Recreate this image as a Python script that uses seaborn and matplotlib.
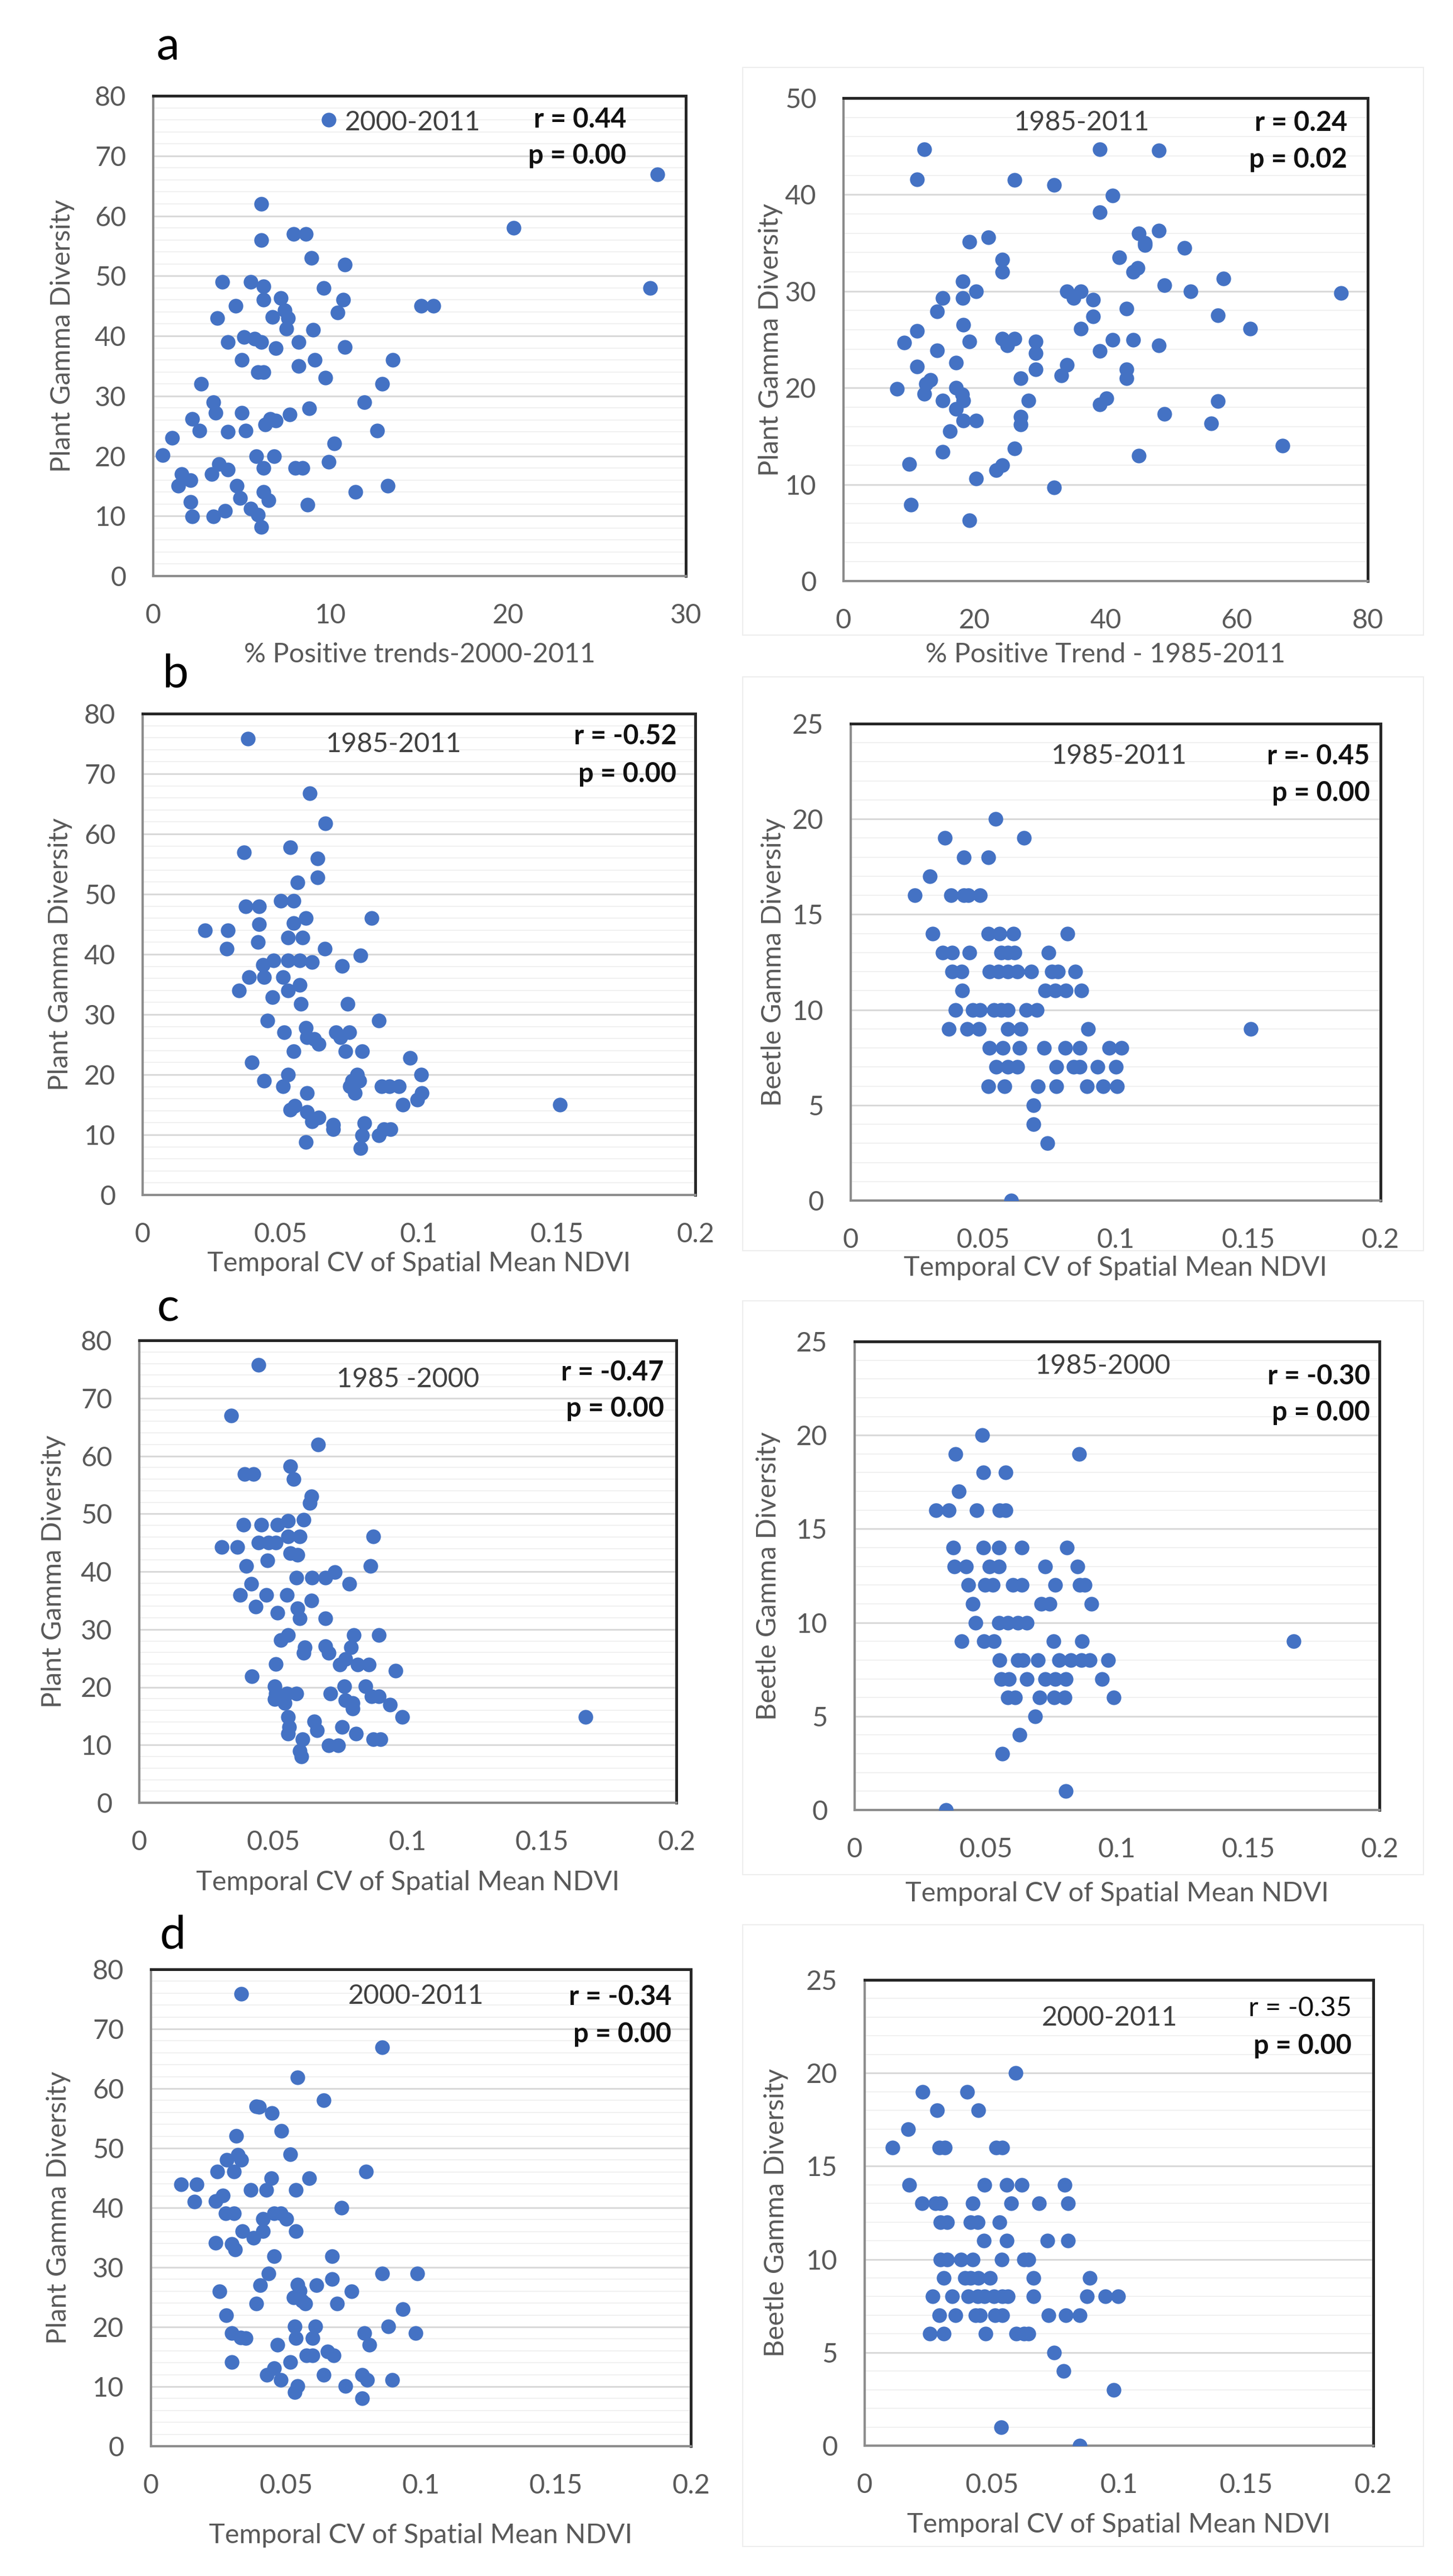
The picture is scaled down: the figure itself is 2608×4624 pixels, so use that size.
import numpy as np
import matplotlib.pyplot as plt
import matplotlib.patches as mpatches
from matplotlib.ticker import MultipleLocator, FixedLocator
import seaborn as sns

sns.set_style("white")
plt.rcParams['font.family'] = ['Lato', 'DejaVu Sans']

# ---- data ----
# a (left): plant diversity vs % positive trends 2000-2011
a_left_x = [0.54, 1.08, 1.4, 1.6, 2.1, 2.1, 2.2, 2.2, 2.6, 2.7, 3.3, 3.4, 3.5, 3.4, 3.6, 3.7, 3.9, 4.05,
            4.2, 4.2, 4.2, 4.65, 4.7, 4.9, 5.0, 5.0, 5.1, 5.2, 5.5, 5.5, 5.7, 5.8, 5.9, 5.9, 6.1, 6.1,
            6.1, 6.1, 6.2, 6.2, 6.2, 6.2, 6.2, 6.3, 6.5, 6.6, 6.7, 6.8, 6.9, 6.9, 7.2, 7.4, 7.6, 7.5,
            7.7, 7.9, 8.0, 8.2, 8.2, 8.4, 8.6, 8.7, 8.8, 8.9, 9.0, 9.1, 9.6, 9.7, 9.9, 10.2, 10.4,
            10.7, 10.8, 10.8, 11.4, 11.9, 12.6, 12.9, 13.2, 13.5, 15.1, 15.8, 20.3, 28.0, 28.4, 9.9]
a_left_y = [20.1, 23, 15, 17, 16, 12.3, 9.9, 26.2, 24.2, 32, 17, 29, 27.2, 9.9, 43, 18.7, 49, 10.9,
            17.7, 39, 24, 45, 15, 13, 36, 27.2, 39.8, 24.2, 49, 11.2, 39.5, 20, 10.2, 34, 62, 56,
            39, 8.2, 48.3, 14, 46, 34, 18, 25.2, 12.6, 26.2, 43.2, 20, 38, 25.9, 46.3, 44.3, 43, 41.2,
            26.9, 57, 18, 39, 35, 18, 57, 11.9, 27.9, 53, 41, 36, 48, 33, 19, 22.1, 43.9,
            46, 51.9, 38.1, 14, 29, 24.2, 32, 15, 36, 45, 45, 58, 48, 66.9, 76]

# a (right): plant diversity vs % positive trend 1985-2011
a_right_x = [8.2, 9.3, 10.0, 10.3, 11.2, 11.2, 11.2, 12.3, 12.3, 12.6,
             13.3, 14.3, 14.3, 15.1, 15.1, 15.1, 16.2, 17.2, 17.2, 17.2,
             18.1, 18.2, 18.2, 18.3, 18.3, 18.3, 19.2, 19.2, 19.2, 20.2,
             20.2, 20.2, 22.1, 23.3, 24.2, 24.2, 24.2, 24.2, 25.0, 26.1,
             26.1, 26.1, 27.0, 27.0, 27.0, 28.2, 29.3, 29.3, 29.3, 32.1,
             32.1, 33.2, 34.1, 34.1, 35.1, 36.2, 36.2, 38.1, 38.1, 39.1,
             39.1, 39.1, 39.1, 40.1, 41.1, 41.1, 42.1, 43.2, 43.2, 43.2,
             44.2, 44.2, 44.9, 45.1, 45.1, 46.0, 46.0, 48.1, 48.1, 48.1,
             49.0, 49.0, 52.0, 53.0, 56.1, 57.1, 57.1, 58.0, 62.1, 67.0, 75.9]
a_right_y = [19.9, 24.7, 12.1, 7.9, 41.6, 25.9, 22.2, 44.7, 19.4, 20.4,
             20.8, 23.9, 27.9, 29.3, 18.7, 13.4, 15.5, 22.6, 20, 17.8,
             19.3, 31, 29.3, 26.5, 16.6, 18.7, 35.1, 24.8, 6.3, 30,
             16.6, 10.6, 35.6, 11.5, 33.3, 32, 12, 25.1, 24.4, 41.5,
             25.1, 13.7, 21, 17, 16.2, 18.7, 24.8, 23.6, 21.9, 41,
             9.7, 21.3, 22.4, 30, 29.3, 30, 26.1, 29.1, 27.4, 44.7,
             38.2, 23.8, 18.3, 18.9, 39.9, 25, 33.5, 28.2, 21.9, 21,
             32, 25, 32.4, 36, 13, 35, 34.8, 44.6, 36.3, 24.4,
             30.6, 17.3, 34.5, 30, 16.3, 27.5, 18.6, 31.3, 26.1, 14, 29.8]

# b (left): plant diversity vs temporal CV 1985-2011
b_left_x = [0.0382, 0.0604, 0.0661, 0.0366, 0.0534, 0.0633, 0.0633, 0.056, 0.050, 0.0546,
            0.0373, 0.0421, 0.059, 0.0546, 0.0421, 0.0829, 0.0225, 0.0309, 0.0526, 0.0578,
            0.0418, 0.0304, 0.0659, 0.0789, 0.0474, 0.0526, 0.0569, 0.0612, 0.0435, 0.0722,
            0.0386, 0.044, 0.0508, 0.0569, 0.0349, 0.0526, 0.047, 0.0572, 0.0742, 0.0451,
            0.0855, 0.059, 0.0512, 0.0699, 0.0748, 0.0595, 0.0621, 0.0638, 0.0716, 0.0546,
            0.0734, 0.0794, 0.0968, 0.0395, 0.0526, 0.0776, 0.1008, 0.044, 0.0759, 0.0785,
            0.0508, 0.075, 0.0864, 0.0893, 0.0928, 0.0595, 0.0768, 0.1011, 0.0994, 0.0942,
            0.1511, 0.0534, 0.0551, 0.0595, 0.0612, 0.0638, 0.069, 0.069, 0.0803, 0.0855,
            0.0873, 0.0898, 0.059, 0.0789, 0.0794]
b_left_y = [75.8, 66.8, 61.8, 56.9, 57.8, 55.9, 52.8, 51.9, 48.9, 48.9,
            48, 48, 46, 45.2, 45, 46, 44, 44, 42.8, 42.8,
            42, 40.9, 40.9, 39.8, 39, 39, 39, 38.7, 38.2, 38.1,
            36.2, 36.2, 36.2, 34.9, 34, 34, 32.9, 31.8, 31.8, 29,
            29, 27.8, 27, 27, 27, 26.2, 25.9, 25.1, 26.2, 23.9,
            23.9, 23.9, 22.8, 22, 20, 20, 20, 19, 19, 19,
            18.1, 18.1, 18.1, 18.1, 18.1, 16.9, 16.9, 16.9, 15.8, 15,
            15, 14.2, 14.8, 13.8, 12.2, 12.9, 11.7, 10.9, 11.9, 9.9,
            10.9, 10.9, 8.8, 7.8, 9.9]

# b (right): beetle diversity vs temporal CV 1985-2011
b_right_x = [0.0546,
             0.0356, 0.0654,
             0.0426, 0.0519,
             0.0298,
             0.0242, 0.0379, 0.0426, 0.0444, 0.0488,
             0.0309, 0.0519, 0.0561, 0.0614, 0.0818,
             0.0347, 0.0382, 0.0449, 0.0567, 0.0593, 0.0619, 0.0747,
             0.0382, 0.0418, 0.0523, 0.0558, 0.0593, 0.0628, 0.0681, 0.076, 0.0782, 0.0847,
             0.0421, 0.0733, 0.0772, 0.0812, 0.087,
             0.0396, 0.0461, 0.0488, 0.054, 0.0567, 0.0593, 0.0663, 0.0702,
             0.037, 0.0439, 0.0484, 0.0593, 0.0642, 0.0895, 0.1509,
             0.0523, 0.0575, 0.0637, 0.073, 0.0809, 0.0865, 0.0975, 0.1023,
             0.0549, 0.0593, 0.0628, 0.0777, 0.0842, 0.0865, 0.0932, 0.1002,
             0.0519, 0.0581, 0.0707, 0.0777, 0.0891, 0.0953, 0.1005,
             0.0689, 0.0689, 0.0742, 0.0605]
b_right_y = [20,
             19, 19,
             18, 18,
             17,
             16, 16, 16, 16, 16,
             14, 14, 14, 14, 14,
             13, 13, 13, 13, 13, 13, 13,
             12, 12, 12, 12, 12, 12, 12, 12, 12, 12,
             11, 11, 11, 11, 11,
             10, 10, 10, 10, 10, 10, 10, 10,
             9, 9, 9, 9, 9, 9, 9,
             8, 8, 8, 8, 8, 8, 8, 8,
             7, 7, 7, 7, 7, 7, 7, 7,
             6, 6, 6, 6, 6, 6, 6,
             5, 4, 3, 0]

# c (left): plant diversity vs temporal CV 1985-2000
c_left_x = [0.0443, 0.0343, 0.0666, 0.0393, 0.0425, 0.0563, 0.0575, 0.0641, 0.0634, 0.0389,
            0.0455, 0.0514, 0.0554, 0.0611, 0.0307, 0.0366, 0.0443, 0.0482, 0.0509, 0.0554,
            0.0598, 0.0871, 0.0563, 0.0589, 0.0477, 0.0398, 0.0861, 0.0586, 0.0643, 0.0693,
            0.0729, 0.0782, 0.0416, 0.0375, 0.0473, 0.055, 0.0641, 0.0434, 0.0514, 0.0589,
            0.0598, 0.0693, 0.0554, 0.0527, 0.0798, 0.0893, 0.0616, 0.0611, 0.0693, 0.0705,
            0.0789, 0.0768, 0.0746, 0.0813, 0.0854, 0.0509, 0.0955, 0.042, 0.0504, 0.0763,
            0.0843, 0.0509, 0.055, 0.0586, 0.0711, 0.0866, 0.0893, 0.0504, 0.0541, 0.0768,
            0.0795, 0.0934, 0.0795, 0.0979, 0.1661, 0.0554, 0.0652, 0.0559, 0.0661, 0.0755,
            0.0554, 0.0807, 0.0607, 0.0871, 0.0898, 0.0705, 0.0741, 0.0598, 0.0604]
c_left_y = [75.8, 67, 62, 56.9, 56.9, 58.2, 56, 53, 51.9, 48.1,
            48.1, 48.1, 48.8, 49, 44.2, 44.2, 45, 45, 45, 46.1,
            46.1, 46.1, 43.2, 42.9, 41.9, 41, 41, 38.9, 38.9, 38.9,
            39.9, 37.9, 37.9, 36, 36, 36, 35, 33.9, 32.9, 33.6,
            31.9, 31.9, 29, 28.1, 29, 29, 26.9, 25.9, 27.1, 25.9,
            26.9, 24.9, 23.9, 23.9, 23.9, 24, 22.8, 21.9, 20.1, 20.1,
            20.1, 18.9, 18.9, 18.9, 18.9, 18.4, 18.4, 17.9, 17.3, 17.7,
            16.3, 17, 17.3, 14.8, 14.8, 14.8, 14.1, 13.1, 12.5, 13.1,
            12, 12, 11, 11, 11, 9.9, 9.9, 9, 8]

# c (right): beetle diversity vs temporal CV 1985-2000
c_right_x = [0.0487,
             0.0384, 0.0855,
             0.049, 0.0575,
             0.0398,
             0.031, 0.0358, 0.0464, 0.0552, 0.0575,
             0.0375, 0.049, 0.0549, 0.0637, 0.0809,
             0.0381, 0.0425, 0.0513, 0.0549, 0.0726, 0.085,
             0.0434, 0.0496, 0.0527, 0.0602, 0.0637, 0.0765, 0.0858, 0.0876,
             0.0451, 0.0712, 0.0743, 0.0903,
             0.046, 0.0549, 0.0584, 0.0623, 0.0655,
             0.0407, 0.0492, 0.0531, 0.0758, 0.0867, 0.1673,
             0.0552, 0.0623, 0.0642, 0.0699, 0.0779, 0.0823, 0.0864, 0.0897, 0.0965,
             0.0558, 0.0589, 0.0655, 0.0726, 0.0765, 0.0805, 0.0942,
             0.0584, 0.0611, 0.0704, 0.0761, 0.08, 0.0988,
             0.0687, 0.0628, 0.0563, 0.0805, 0.0349]
c_right_y = [20,
             19, 19,
             18, 18,
             17,
             16, 16, 16, 16, 16,
             14, 14, 14, 14, 14,
             13, 13, 13, 13, 13, 13,
             12, 12, 12, 12, 12, 12, 12, 12,
             11, 11, 11, 11,
             10, 10, 10, 10, 10,
             9, 9, 9, 9, 9, 9,
             8, 8, 8, 8, 8, 8, 8, 8, 8,
             7, 7, 7, 7, 7, 7, 7,
             6, 6, 6, 6, 6, 6,
             5, 4, 3, 1, 0]

# d (left): plant diversity vs temporal CV 2000-2011
d_left_x = [0.0334, 0.0857, 0.0542, 0.064, 0.0391, 0.04, 0.0448, 0.0482, 0.0316, 0.0517,
            0.0323, 0.0281, 0.0334, 0.0308, 0.0245, 0.0796, 0.0446, 0.0587, 0.0112, 0.0169,
            0.037, 0.0427, 0.0537, 0.0267, 0.024, 0.016, 0.0706, 0.0276, 0.0308, 0.0457,
            0.048, 0.0414, 0.0501, 0.0338, 0.0414, 0.0537, 0.0379, 0.024, 0.0299, 0.0311,
            0.0457, 0.067, 0.0436, 0.0857, 0.0987, 0.067, 0.0542, 0.0613, 0.0404, 0.0254,
            0.0743, 0.0551, 0.0528, 0.056, 0.0572, 0.0391, 0.069, 0.0933, 0.0279, 0.0533,
            0.0608, 0.088, 0.0299, 0.0791, 0.098, 0.0332, 0.035, 0.0537, 0.0599, 0.0468,
            0.0809, 0.0576, 0.0599, 0.0654, 0.0676, 0.0299, 0.0517, 0.0457, 0.043, 0.064,
            0.0782, 0.048, 0.08, 0.0894, 0.0542, 0.072, 0.0533, 0.0782]
d_left_y = [75.9, 66.9, 61.9, 58, 57, 56.9, 55.9, 52.9, 52.1, 49,
            48.9, 48, 48, 46.1, 46.1, 46.1, 45, 45, 43.9, 43.9,
            43, 43, 43, 42.1, 41.1, 41, 40, 39.1, 39.1, 39.1,
            39.1, 38.1, 38.1, 36.1, 36.1, 36.1, 35, 34.1, 33.9, 33,
            31.9, 31.9, 29, 29, 29, 28, 27.1, 27, 27, 26,
            26, 26.1, 25, 24.4, 23.9, 23.9, 23.9, 23, 22, 20.1,
            20.1, 20.1, 19, 19, 19, 18.2, 18.1, 18.1, 18.1, 17,
            17, 15.2, 15.2, 15.9, 15.2, 14.1, 14.1, 13.1, 12, 12,
            12, 11.1, 11.1, 11.1, 10.1, 10.1, 9.1, 8]

# d (right): beetle diversity vs temporal CV 2000-2011
d_right_x = [0.0594,
             0.0228, 0.0402,
             0.0285, 0.0447,
             0.017,
             0.011, 0.0294, 0.0316, 0.0517, 0.0541,
             0.0175, 0.0471, 0.0559, 0.0617, 0.0787,
             0.0225, 0.0279, 0.0298, 0.0426, 0.0577, 0.0685, 0.08,
             0.0298, 0.0325, 0.0416, 0.0444, 0.053,
             0.0468, 0.0559, 0.0718, 0.08,
             0.0298, 0.0325, 0.038, 0.0426, 0.0539, 0.0626, 0.0645,
             0.0311, 0.0395, 0.0416, 0.0447, 0.0493, 0.0663, 0.0886,
             0.0267, 0.0343, 0.0407, 0.0444, 0.0471, 0.0508, 0.0541, 0.0563, 0.0663, 0.0873, 0.0946, 0.0997,
             0.0294, 0.0356, 0.0435, 0.0453, 0.0513, 0.0541, 0.0723, 0.0791, 0.0846,
             0.0256, 0.0311, 0.0475, 0.0595, 0.0626, 0.0645,
             0.0745, 0.0782, 0.0979, 0.0537, 0.0846]
d_right_y = [20,
             19, 19,
             18, 18,
             17,
             16, 16, 16, 16, 16,
             14, 14, 14, 14, 14,
             13, 13, 13, 13, 13, 13, 13,
             12, 12, 12, 12, 12,
             11, 11, 11, 11,
             10, 10, 10, 10, 10, 10, 10,
             9, 9, 9, 9, 9, 9, 9,
             8, 8, 8, 8, 8, 8, 8, 8, 8, 8, 8, 8,
             7, 7, 7, 7, 7, 7, 7, 7, 7,
             6, 6, 6, 6, 6, 6,
             5, 4, 3, 1, 0]

periods = ["2000-2011", "1985-2011", "1985-2011", "1985-2011",
           "1985 -2000", "1985-2000", "2000-2011", "2000-2011"]
r_texts = ["r = 0.44", "r = 0.24", "r = -0.52", "r =- 0.45",
           "r = -0.47", "r = -0.30", "r = -0.34", "r = -0.35"]
p_texts = ["p = 0.00", "p = 0.02", "p = 0.00", "p = 0.00",
           "p = 0.00", "p = 0.00", "p = 0.00", "p = 0.00"]
cv_label = "Temporal CV of Spatial Mean NDVI"
x_labels = ["% Positive trends-2000-2011", "% Positive Trend - 1985-2011"] + [cv_label] * 6
y_labels = ["Plant Gamma Diversity", "Plant Gamma Diversity", "Plant Gamma Diversity",
            "Beetle Gamma Diversity", "Plant Gamma Diversity", "Beetle Gamma Diversity",
            "Plant Gamma Diversity", "Beetle Gamma Diversity"]
row_letters = ["a", "b", "c", "d"]

# ---- layout (pixel boxes of each plot area) ----
W, H = 2608, 4624
boxes = [(275, 1231, 172, 1034), (1514, 2455, 176, 1043),
         (256, 1248, 1281, 2145), (1527, 2478, 1299, 2155),
         (250, 1214, 2406, 3236), (1534, 2476, 2408, 3249),
         (271, 1240, 3535, 4391), (1552, 2465, 3554, 4390)]
# text placement in axes fraction: period (x, y, ha), r (x, y), p y
period_pos = [(0.36, 0.944, 'left'), (0.455, 0.949, 'center'), (0.454, 0.936, 'center'),
              (0.507, 0.932, 'center'), (0.50, 0.916, 'center'), (0.473, 0.948, 'center'),
              (0.491, 0.944, 'center'), (0.481, 0.919, 'center')]
r_pos = [(0.888, 0.951, 0.875), (0.961, 0.949, 0.873), (0.966, 0.953, 0.875),
         (0.98, 0.932, 0.854), (0.977, 0.931, 0.852), (0.982, 0.926, 0.848),
         (0.964, 0.942, 0.864), (0.957, 0.939, 0.858)]
xlab_off = [141, 132, 123, 121, 143, 150, 160, 142]
ylab_off = [163, 131, 148, 139, 154, 155, 166, 159]
letter_pos = [(301, 84), (314, 1210), (301, 2349), (310, 3474)]

xs = [a_left_x, a_right_x, b_left_x, b_right_x, c_left_x, c_right_x, d_left_x, d_right_x]
ys = [a_left_y, a_right_y, b_left_y, b_right_y, c_left_y, c_right_y, d_left_y, d_right_y]

dot_color = "#4472C4"
grey_txt = "#595959"

fig = plt.figure(figsize=(W / 100, H / 100), dpi=100)

# faint chart-area frames of the right column
for (y0, y1) in [(121, 1140), (1215, 2245), (2335, 3365), (3455, 4571)]:
    fig.patches.append(mpatches.Rectangle((1333 / W, 1 - y1 / H), (2555 - 1333) / W, (y1 - y0) / H,
                                          transform=fig.transFigure, fill=False,
                                          edgecolor="#ededed", linewidth=1.5))

for i in range(8):
    x0, x1, y0, y1 = boxes[i]
    ax = fig.add_axes([x0 / W, 1 - y1 / H, (x1 - x0) / W, (y1 - y0) / H])
    sns.scatterplot(x=xs[i], y=ys[i], ax=ax, color=dot_color, s=360, linewidth=0, zorder=3)

    beetle = y_labels[i].startswith("Beetle")
    if i == 0:
        ax.set_xlim(0, 30)
        ax.xaxis.set_major_locator(FixedLocator([0, 10, 20, 30]))
    elif i == 1:
        ax.set_xlim(0, 80)
        ax.xaxis.set_major_locator(FixedLocator([0, 20, 40, 60, 80]))
    else:
        ax.set_xlim(0, 0.2)
        ax.set_xticks([0, 0.05, 0.1, 0.15, 0.2])
        ax.set_xticklabels(["0", "0.05", "0.1", "0.15", "0.2"])
    if beetle:
        ax.set_ylim(0, 25)
        ax.yaxis.set_major_locator(MultipleLocator(5))
        ax.yaxis.set_minor_locator(MultipleLocator(1))
    elif i == 1:
        ax.set_ylim(0, 50)
        ax.yaxis.set_major_locator(MultipleLocator(10))
        ax.yaxis.set_minor_locator(MultipleLocator(2))
    else:
        ax.set_ylim(0, 80)
        ax.yaxis.set_major_locator(MultipleLocator(10))
        ax.yaxis.set_minor_locator(MultipleLocator(2))

    ax.grid(which='major', axis='y', color="#d9d9d9", linewidth=2.2, zorder=0)
    ax.grid(which='minor', axis='y', color="#efefef", linewidth=1.3, zorder=0)
    ax.grid(which='major', axis='x', visible=False)
    ax.set_axisbelow(True)

    for side in ['top', 'right']:
        ax.spines[side].set_color("#262626")
        ax.spines[side].set_linewidth(3.6)
    for side in ['left', 'bottom']:
        ax.spines[side].set_color("#8c8c8c")
        ax.spines[side].set_linewidth(3.0)

    ax.tick_params(axis='both', which='major', direction='out', length=13, width=1.8,
                   color="#bfbfbf", pad=22, labelsize=35, labelcolor=grey_txt)
    ax.tick_params(axis='y', which='minor', length=0)

    ax.set_xlabel(x_labels[i], fontsize=35, color=grey_txt)
    ax.set_ylabel(y_labels[i], fontsize=35, color=grey_txt)
    ax.xaxis.label.set_va('center')
    ax.yaxis.label.set_va('center')
    ax.xaxis.set_label_coords(0.5, -xlab_off[i] / (y1 - y0))
    ax.yaxis.set_label_coords(-ylab_off[i] / (x1 - x0), 0.5)

    px, py, pha = period_pos[i]
    ax.text(px, py, periods[i], transform=ax.transAxes, ha=pha, va='center',
            fontsize=35, color="#404040")
    rx, ry, pyy = r_pos[i]
    weight = 'normal' if i == 7 else 'bold'
    ax.text(rx, ry, r_texts[i], transform=ax.transAxes, ha='right', va='center',
            fontsize=35, color="#111111", fontweight=weight)
    ax.text(rx, pyy, p_texts[i], transform=ax.transAxes, ha='right', va='center',
            fontsize=35, color="#111111", fontweight='bold')

for letter, (lx, ly) in zip(row_letters, letter_pos):
    fig.text(lx / W, 1 - ly / H, letter, ha='center', va='center', fontsize=60, color="black")

fig.savefig("out.png", dpi=100)
